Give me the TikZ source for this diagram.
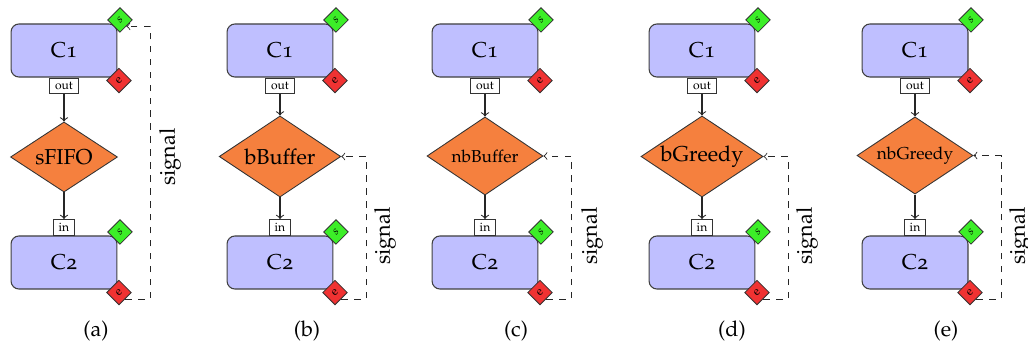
\documentclass[tikz,border=0pt]{standalone}
\usepackage[T1]{fontenc}
\usepackage[osf]{mathpazo}
\usetikzlibrary{shapes.geometric}

\definecolor{compfill}{RGB}{191,191,255}
\definecolor{buffill}{RGB}{245,128,62}
\definecolor{sfill}{RGB}{60,238,40}
\definecolor{efill}{RGB}{240,50,50}

\begin{document}
\begin{tikzpicture}[x=0.0163cm, y=0.0163cm,
    comp/.style={draw=black!75, fill=compfill, rounded corners=3.7pt, line width=0.5pt,
                 minimum width=49.1pt, minimum height=24.6pt},
    port/.style={draw=black!80, fill=white, line width=0.4pt, inner xsep=2.4pt, inner ysep=0pt,
                 minimum height=7.2pt, font=\fontsize{5.6}{6}\selectfont},
    badge/.style={draw=black!80, line width=0.4pt, rotate=45, minimum width=8pt, minimum height=8pt,
                  inner sep=0pt, font=\fontsize{5.5}{5.5}\selectfont},
    buf/.style={diamond, aspect=1.5, draw=black!80, fill=buffill, line width=0.4pt, inner sep=0pt},
    flow/.style={->, draw=black!85, line width=0.5pt},
    sig/.style={->, dashed, draw=black!85, line width=0.4pt}]
  \useasboundingbox (0,0) rectangle (1028,345);

  % components, ports and start/end flags
  \foreach \p/\x in {a/64,b/280,c/485,d/702,e/915} {
    \node[comp] (c1\p) at (\x,294.5) {C1};
    \node[comp] (c2\p) at (\x,82.5) {C2};
    \node[port, anchor=north] (out\p) at (c1\p.south) {out};
    \node[port, anchor=south] (in\p) at (c2\p.north) {in};
    \node[badge, fill=sfill] (s1\p) at ([shift={(2.5,3.5)}]c1\p.north east) {\textit{s}};
    \node[badge, fill=efill] (e1\p) at ([shift={(1.5,-3)}]c1\p.south east) {e};
    \node[badge, fill=sfill] (s2\p) at ([shift={(2.5,3.5)}]c2\p.north east) {\textit{s}};
    \node[badge, fill=efill] (e2\p) at ([shift={(1.5,-3)}]c2\p.south east) {e};
  }

  % channels
  \node[buf, minimum width=49.6pt, minimum height=32.5pt] (qa) at (64,188) {sFIFO};
  \node[buf, minimum width=56.4pt, minimum height=37.6pt] (qb) at (280,188.5) {bBuffer};
  \node[buf, minimum width=53.8pt, minimum height=36.2pt, font=\footnotesize] (qc) at (485,189) {nbBuffer};
  \node[buf, minimum width=56.6pt, minimum height=37.6pt] (qd) at (702,188.5) {bGreedy};
  \node[buf, minimum width=53.8pt, minimum height=35.8pt, font=\footnotesize] (qe) at (915,189.5) {nbGreedy};

  \foreach \p in {a,b,c,d,e} {
    \draw[flow] (out\p) -- (q\p);
    \draw[flow] (q\p) -- (in\p);
  }

  % signal
  \draw[sig] (e2a.south) -- ++(25,0) |- (s1a.south);
  \node[rotate=90] (siga) at (170,188) {signal};
  \foreach \p/\x in {b/385,c/592,d/807,e/1020} {
    \draw[sig] (e2\p.south) -- ++(25,0) |- (q\p.east);
    \node[rotate=90] (sig\p) at (\x,109) {signal};
  }

  % captions
  \foreach \p/\x in {a/96,b/307,c/516,d/732,e/946}
    \node (cap\p) at (\x,14) {(\p)};
\end{tikzpicture}
\end{document}
